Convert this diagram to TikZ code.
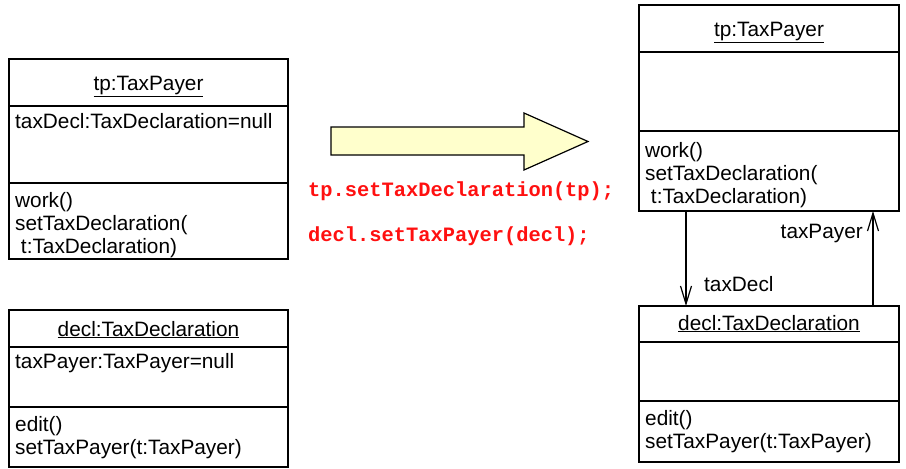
\documentclass[tikz,border=0pt]{standalone}
\usepackage{fontspec}
\setmainfont{Liberation Sans}
\newfontfamily\codefont{Liberation Mono}
\usetikzlibrary{arrows.meta}
\definecolor{arrowfill}{HTML}{FFFFCC}
\definecolor{codered}{HTML}{FF1010}
\begin{document}
\begin{tikzpicture}[x=1pt,y=-1pt,
  comp/.style={draw, line width=1.2pt, rectangle, anchor=north west, inner sep=0pt, outer sep=0pt},
  txt/.style={anchor=base west, inner sep=0pt, font=\fontsize{20.8}{23}\selectfont},
  ttl/.style={anchor=base, inner sep=0pt, font=\fontsize{20.8}{23}\selectfont},
  code/.style={anchor=base west, inner sep=0pt, text=codered, font=\codefont\bfseries\fontsize{20.4}{23}\selectfont},
  assoc/.style={line width=1.2pt, -{Straight Barb[length=18pt,width=11pt,line width=1.2pt]}}
]
\useasboundingbox (0,0) rectangle (906,469);

% left top: tp:TaxPayer
\node[comp, minimum width=279pt, minimum height=47pt] (tpL-name) at (9,59) {};
\node[comp, minimum width=279pt, minimum height=77pt] (tpL-attr) at (9,106) {};
\node[comp, minimum width=279pt, minimum height=76pt] (tpL-ops) at (9,183) {};
\node[ttl] (tpL-t) at (148.5,90) {\underline{tp:TaxPayer}};
\node[txt] (tpL-a) at (15,128) {taxDecl:TaxDeclaration=null};
\node[txt] (tpL-o1) at (15,207) {work()};
\node[txt] (tpL-o2) at (15,230) {setTaxDeclaration(};
\node[txt] (tpL-o3) at (15,253) {\ t:TaxDeclaration)};

% left bottom: decl:TaxDeclaration
\node[comp, minimum width=279pt, minimum height=37pt] (declL-name) at (9,310) {};
\node[comp, minimum width=279pt, minimum height=60pt] (declL-attr) at (9,347) {};
\node[comp, minimum width=279pt, minimum height=60pt] (declL-ops) at (9,407) {};
\node[ttl] (declL-t) at (148.5,336) {\underline{decl:TaxDeclaration}};
\node[txt] (declL-a) at (15,368) {taxPayer:TaxPayer=null};
\node[txt] (declL-o1) at (15,431) {edit()};
\node[txt] (declL-o2) at (15,454) {setTaxPayer(t:TaxPayer)};

% big arrow
\draw[line width=1.2pt, fill=arrowfill] (331,127) -- (524,127) -- (524,113) -- (588,141.5) -- (524,170) -- (524,155) -- (331,155) -- cycle;

% code
\node[code] (c1) at (308,196) {tp.setTaxDeclaration(tp);};
\node[code] (c2) at (308,241) {decl.setTaxPayer(decl);};

% right top: tp:TaxPayer
\node[comp, minimum width=260pt, minimum height=47pt] (tpR-name) at (639,5) {};
\node[comp, minimum width=260pt, minimum height=79pt] (tpR-attr) at (639,52) {};
\node[comp, minimum width=260pt, minimum height=80pt] (tpR-ops) at (639,131) {};
\node[ttl] (tpR-t) at (769,36) {\underline{tp:TaxPayer}};
\node[txt] (tpR-o1) at (645,157) {work()};
\node[txt] (tpR-o2) at (645,180) {setTaxDeclaration(};
\node[txt] (tpR-o3) at (645,203) {\ t:TaxDeclaration)};

% right bottom: decl:TaxDeclaration
\node[comp, minimum width=260pt, minimum height=36pt] (declR-name) at (639,306) {};
\node[comp, minimum width=260pt, minimum height=59pt] (declR-attr) at (639,342) {};
\node[comp, minimum width=260pt, minimum height=61pt] (declR-ops) at (639,401) {};
\node[ttl] (declR-t) at (769,330) {\underline{decl:TaxDeclaration}};
\node[txt] (declR-o1) at (645,425) {edit()};
\node[txt] (declR-o2) at (645,448) {setTaxPayer(t:TaxPayer)};

% links
\draw[assoc] ([xshift=47pt]tpR-ops.south west) -- ([xshift=47pt]declR-name.north west);
\draw[assoc] ([xshift=234pt]declR-name.north west) -- ([xshift=234pt]tpR-ops.south west);
\node[anchor=base east, inner sep=0pt, font=\fontsize{20.8}{23}\selectfont] (lblTP) at (863,238) {taxPayer};
\node[anchor=base west, inner sep=0pt, font=\fontsize{20.8}{23}\selectfont] (lblTD) at (704,291) {taxDecl};
\end{tikzpicture}
\end{document}
